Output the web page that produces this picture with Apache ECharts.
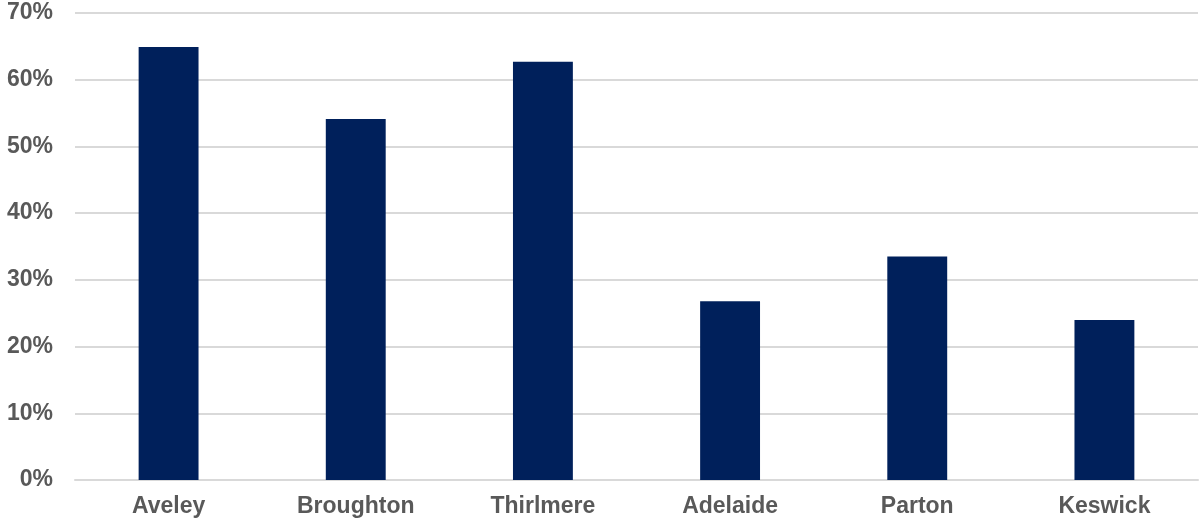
<!DOCTYPE html>
<html><head><meta charset="utf-8">
<script src="https://cdn.jsdelivr.net/npm/echarts@6/dist/echarts.min.js"></script>
<style>html,body{margin:0;padding:0;background:#fff}#c{width:1201px;height:522px}</style>
</head><body><div id="c"></div>
<script>
const categories = ["Aveley", "Broughton", "Thirlmere", "Adelaide", "Parton", "Keswick"];
const values = [0.649, 0.541, 0.627, 0.268, 0.335, 0.240];
const yTicks = [0, 0.1, 0.2, 0.3, 0.4, 0.5, 0.6, 0.7];

const chart = echarts.init(document.getElementById('c'), null, {renderer: 'canvas'});
chart.setOption({
  animation: false,
  backgroundColor: '#fff',
  grid: {left: 75, right: 3, top: 13, bottom: 42, containLabel: false},
  xAxis: {
    type: 'category', data: categories,
    axisLine: {show: true, lineStyle: {color: '#d9d9d9', width: 2}},
    axisTick: {show: false},
    axisLabel: {color: '#595959', fontFamily: 'Liberation Sans, Arial', fontWeight: 'bold', fontSize: 23, margin: 15}
  },
  yAxis: {
    type: 'value', min: yTicks[0], max: yTicks[yTicks.length - 1], interval: 0.1,
    axisLine: {show: false}, axisTick: {show: false},
    splitLine: {lineStyle: {color: '#d9d9d9', width: 2}},
    axisLabel: {color: '#595959', fontFamily: 'Liberation Sans, Arial', fontWeight: 'bold', fontSize: 23, margin: 22,
      formatter: v => Math.round(v * 100) + '%'}
  },
  series: [{
    type: 'bar', data: values, barWidth: '32%',
    itemStyle: {color: '#00205B'}
  }]
});
</script></body></html>
